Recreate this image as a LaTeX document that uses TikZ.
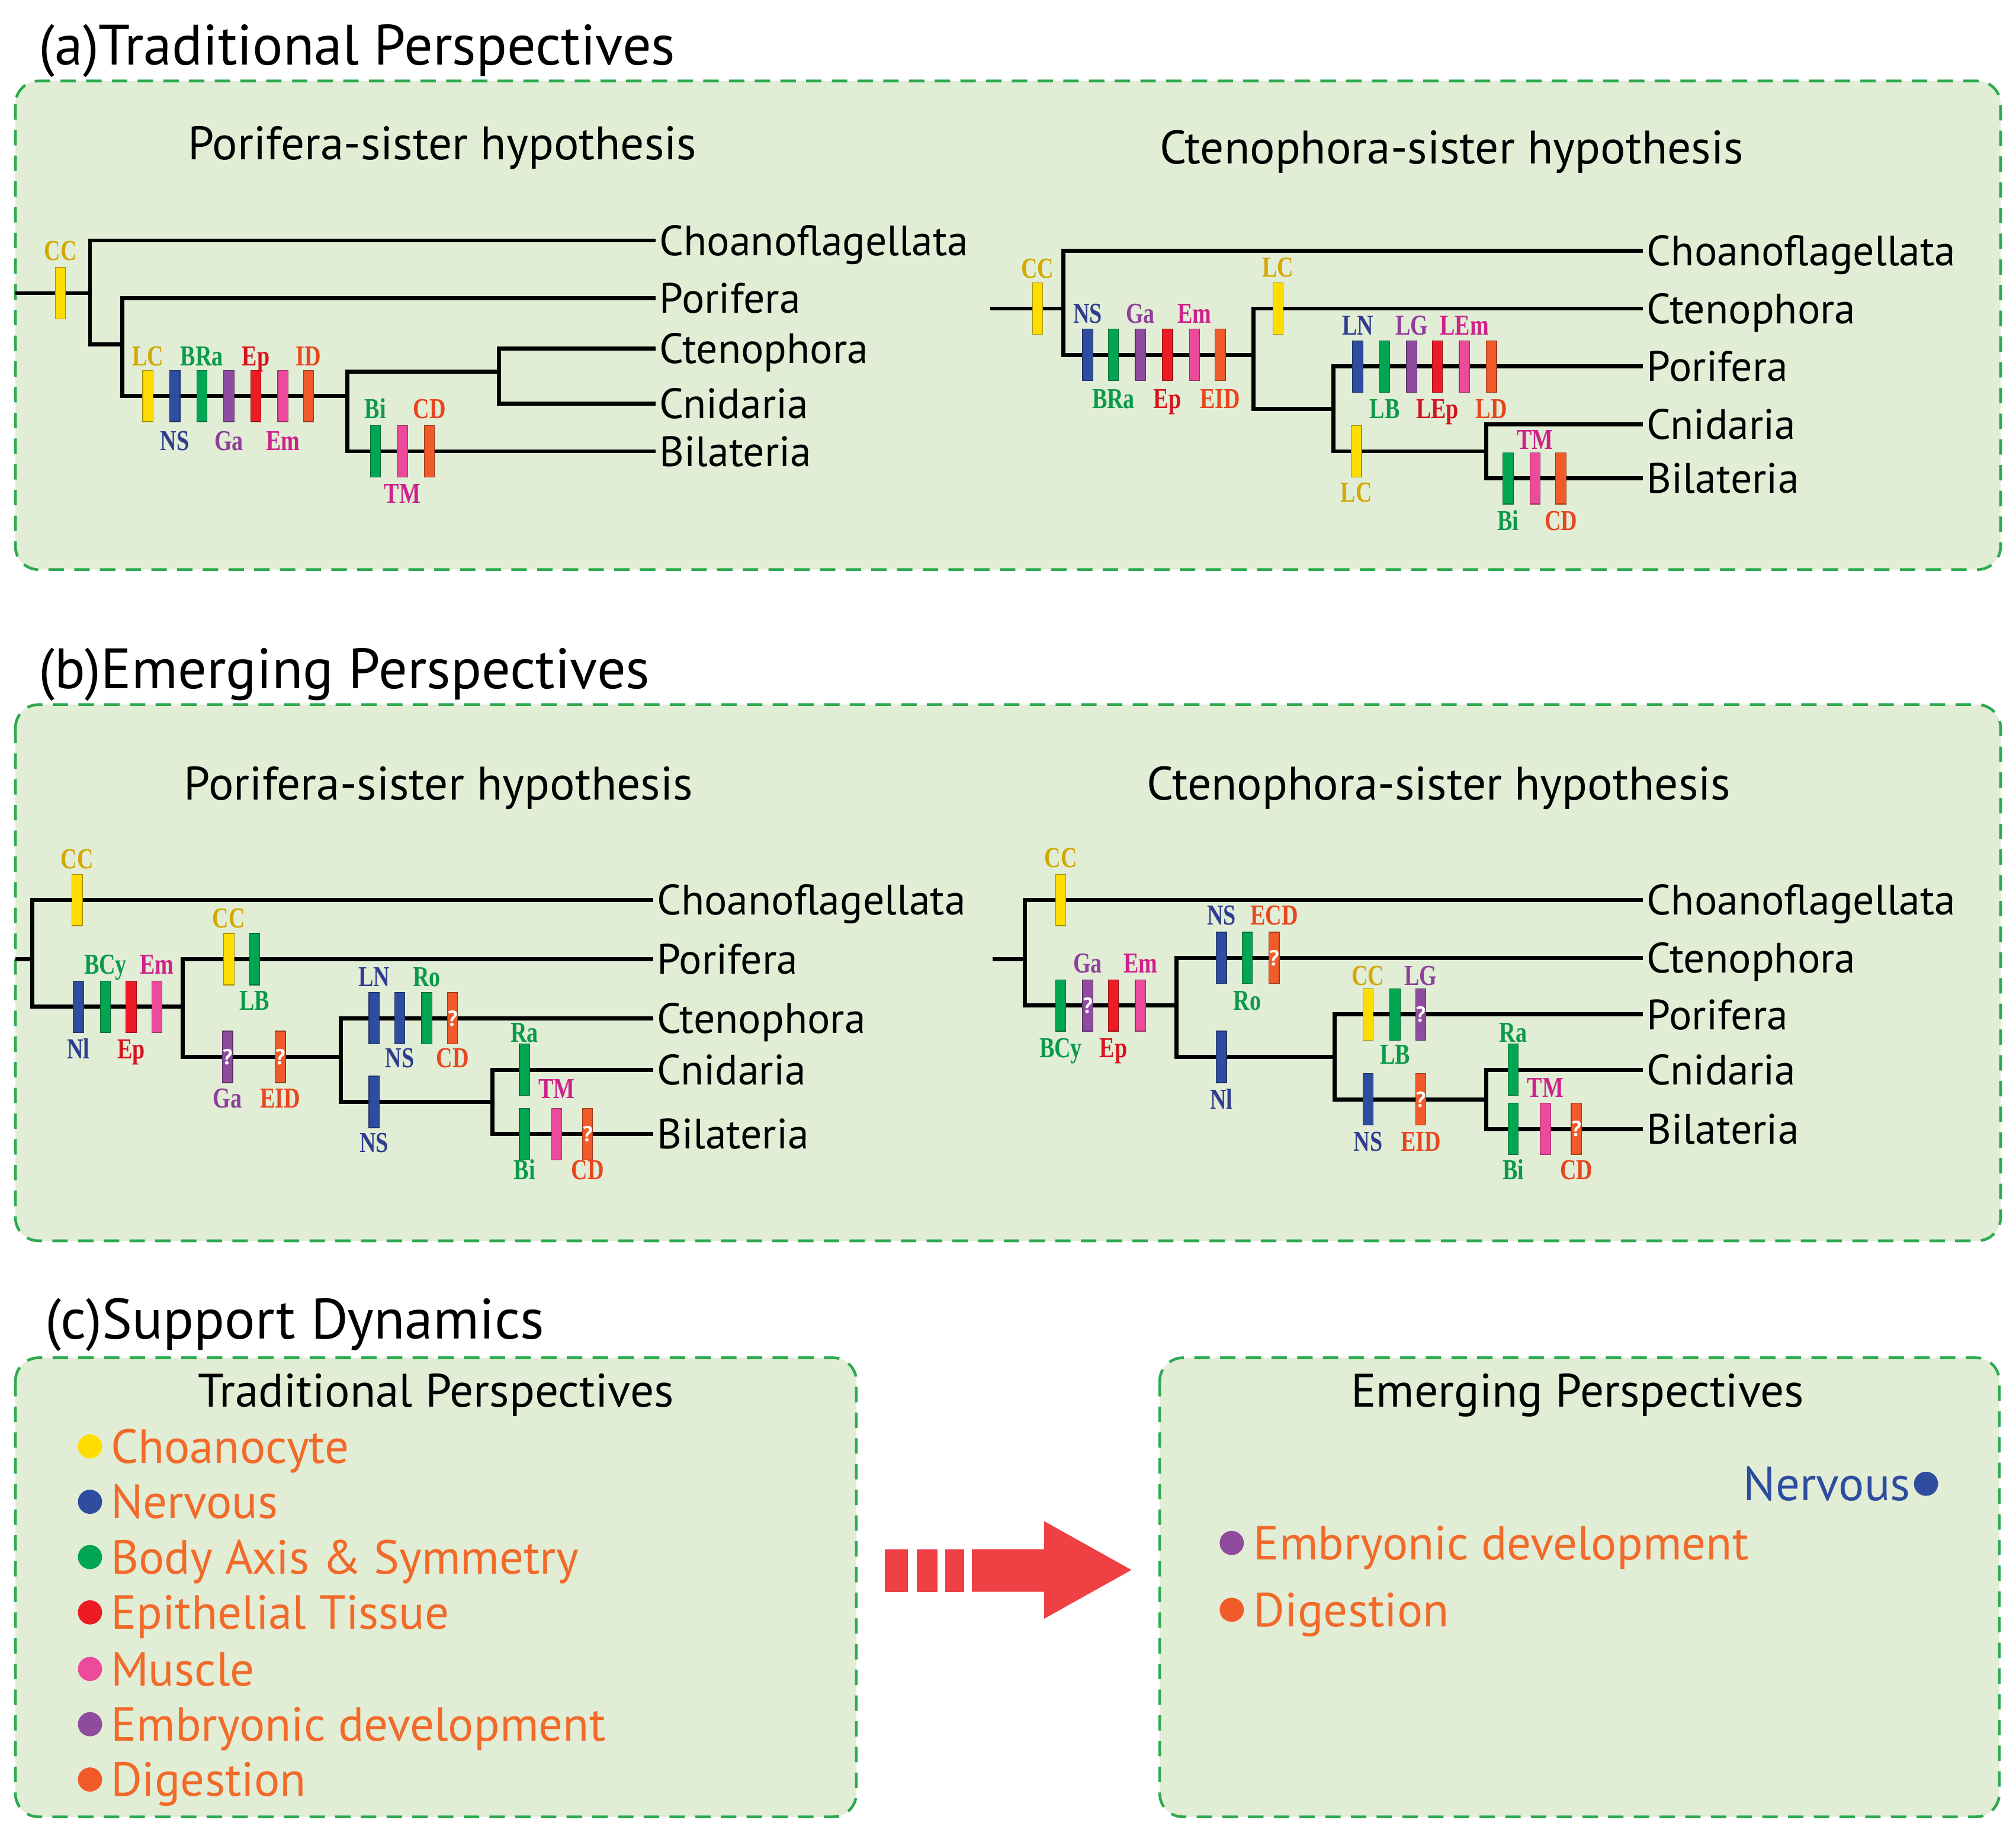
\documentclass[tikz,border=0pt]{standalone}
\usepackage{fontspec}
\setmainfont{PT Sans}
\newfontfamily\labfont{Liberation Serif}[FakeStretch=0.78]
\definecolor{yel}{HTML}{FFDD00}
\definecolor{blu}{HTML}{2E4D9F}
\definecolor{grn}{HTML}{00A651}
\definecolor{pur}{HTML}{8F4B9E}
\definecolor{red}{HTML}{ED1C24}
\definecolor{pnk}{HTML}{EC4A9B}
\definecolor{org}{HTML}{F15A29}
\definecolor{lyel}{HTML}{D4A800}
\definecolor{lblu}{HTML}{2E3D8F}
\definecolor{lgrn}{HTML}{0A9A4A}
\definecolor{lpur}{HTML}{8E3F9A}
\definecolor{lred}{HTML}{D7141E}
\definecolor{lpnk}{HTML}{D0218A}
\definecolor{lorg}{HTML}{E8461F}
\definecolor{legt}{HTML}{F26A2A}
\definecolor{boxbg}{HTML}{E1EDD5}
\definecolor{boxln}{HTML}{2DAA4F}
\definecolor{arr}{HTML}{EF4044}
\newcommand\tbar[3]{\filldraw[fill=#3,draw=#3!65!black,line width=0.8pt] ({#1-4},{#2-20}) rectangle ({#1+4},{#2+20});}
\newcommand\qbar[3]{\tbar{#1}{#2}{#3}\node[text=white,font=\bfseries\fontsize{24}{24}\selectfont,inner sep=0] at (#1,#2) {?};}
\newcommand\tlab[4]{\node[lab,text=#3] at (#1,#2) {#4};}
\begin{document}
\begin{tikzpicture}[x=0.05cm,y=-0.05cm,
  br/.style={line width=4.5pt,line join=miter,black},
  leaf/.style={anchor=west,inner xsep=4pt,inner ysep=0pt,text height=33pt,text depth=0pt,font=\fontsize{47}{47}\selectfont},
  lab/.style={inner sep=0pt,text height=21pt,text depth=0pt,font=\labfont\bfseries\fontsize{32}{32}\selectfont},
  ttl/.style={font=\fontsize{52}{52}\selectfont,inner sep=0pt},
  sec/.style={font=\fontsize{63}{63}\selectfont,anchor=west,inner sep=0pt,text height=44pt,text depth=0pt},
  box/.style={draw=boxln,fill=boxbg,line width=3pt,dash pattern=on 0.6cm off 0.4cm,rounded corners=0.9cm},
  legtxt/.style={anchor=west,inner sep=0pt,text=legt,font=\fontsize{53}{53}\selectfont,text height=37pt,text depth=0pt}]
\useasboundingbox (0,0) rectangle (1568,1430);
\fill[white] (0,0) rectangle (1568,1430);
% ---------- (a)
\node[sec] (ta) at (30,35) {(a)Traditional Perspectives};
\draw[box] (12,63) rectangle (1556,443);
\node[ttl] (ta1) at (344,115) {Porifera-sister hypothesis};
\node[ttl] (ta2) at (1129,118) {Ctenophora-sister hypothesis};
\node[leaf] (aC) at (510,187) {Choanoflagellata};
\node[leaf] (aP) at (510,232) {Porifera};
\node[leaf] (aCt) at (510,271) {Ctenophora};
\node[leaf] (aCn) at (510,314) {Cnidaria};
\node[leaf] (aB) at (510,351) {Bilateria};
\draw[br] (12,228) -- (70,228);
\draw[br] (aC.west) -| (70,268) -- (95,268);
\draw[br] (aP.west) -| (95,308) -- (270,308);
\draw[br] (388,289) -- (270,289) -- (270,351) -- (aB.west);
\draw[br] (aCt.west) -| (388,314) -- (aCn.west);
\tbar{47}{228}{yel}\tlab{47}{195}{lyel}{CC}
\tbar{115}{308}{yel}\tbar{136}{308}{blu}\tbar{157}{308}{grn}\tbar{178}{308}{pur}\tbar{199}{308}{red}\tbar{220}{308}{pnk}\tbar{240}{308}{org}
\tlab{115}{277}{lyel}{LC}\tlab{157}{277}{lgrn}{BRa}\tlab{199}{277}{lred}{Ep}\tlab{240}{277}{lorg}{ID}
\tlab{136}{343}{lblu}{NS}\tlab{178}{343}{lpur}{Ga}\tlab{220}{343}{lpnk}{Em}
\tbar{292}{351}{grn}\tbar{313}{351}{pnk}\tbar{334}{351}{org}
\tlab{292}{318}{lgrn}{Bi}\tlab{334}{318}{lorg}{CD}\tlab{313}{384}{lpnk}{TM}
% right (a)
\node[leaf] (aC2) at (1278,195) {Choanoflagellata};
\node[leaf] (aCt2) at (1278,240) {Ctenophora};
\node[leaf] (aP2) at (1278,285) {Porifera};
\node[leaf] (aCn2) at (1278,330) {Cnidaria};
\node[leaf] (aB2) at (1278,372) {Bilateria};
\draw[br] (770,240) -- (827,240);
\draw[br] (aC2.west) -| (827,276) -- (975,276);
\draw[br] (aCt2.west) -| (975,318) -- (1037,318);
\draw[br] (aP2.west) -| (1037,351) -- (1156,351);
\draw[br] (aCn2.west) -| (1156,372) -- (aB2.west);
\tbar{807}{240}{yel}\tlab{807}{209}{lyel}{CC}
\tbar{846}{276}{blu}\tbar{866}{276}{grn}\tbar{887}{276}{pur}\tbar{908}{276}{red}\tbar{929}{276}{pnk}\tbar{949}{276}{org}
\tlab{846}{244}{lblu}{NS}\tlab{887}{244}{lpur}{Ga}\tlab{929}{244}{lpnk}{Em}
\tlab{866}{310}{lgrn}{BRa}\tlab{908}{310}{lred}{Ep}\tlab{949}{310}{lorg}{EID}
\tbar{994}{240}{yel}\tlab{994}{208}{lyel}{LC}
\tbar{1056}{285}{blu}\tbar{1077}{285}{grn}\tbar{1098}{285}{pur}\tbar{1118}{285}{red}\tbar{1139}{285}{pnk}\tbar{1160}{285}{org}
\tlab{1056}{253}{lblu}{LN}\tlab{1098}{253}{lpur}{LG}\tlab{1139}{253}{lpnk}{LEm}
\tlab{1077}{318}{lgrn}{LB}\tlab{1118}{318}{lred}{LEp}\tlab{1160}{318}{lorg}{LD}
\tbar{1055}{351}{yel}\tlab{1055}{383}{lyel}{LC}
\tbar{1173}{372}{grn}\tbar{1194}{372}{pnk}\tbar{1214}{372}{org}
\tlab{1194}{342}{lpnk}{TM}\tlab{1173}{405}{lgrn}{Bi}\tlab{1214}{405}{lorg}{CD}
% ---------- (b)
\node[sec] (tb) at (30,520) {(b)Emerging Perspectives};
\draw[box] (12,548) rectangle (1556,965);
\node[ttl] (tb1) at (341,613) {Porifera-sister hypothesis};
\node[ttl] (tb2) at (1119,613) {Ctenophora-sister hypothesis};
\node[leaf] (bC) at (508,700) {Choanoflagellata};
\node[leaf] (bP) at (508,746) {Porifera};
\node[leaf] (bCt) at (508,792) {Ctenophora};
\node[leaf] (bCn) at (508,832) {Cnidaria};
\node[leaf] (bB) at (508,882) {Bilateria};
\draw[br] (12,746) -- (25,746);
\draw[br] (bC.west) -| (25,783) -- (142,783);
\draw[br] (bP.west) -| (142,822) -- (265,822);
\draw[br] (bCt.west) -| (265,857) -- (383,857);
\draw[br] (bCn.west) -| (383,882) -- (bB.west);
\tbar{60}{700}{yel}\tlab{60}{668}{lyel}{CC}
\tbar{61}{783}{blu}\tbar{82}{783}{grn}\tbar{102}{783}{red}\tbar{122}{783}{pnk}
\tlab{82}{750}{lgrn}{BCy}\tlab{122}{750}{lpnk}{Em}\tlab{61}{816}{lblu}{Nl}\tlab{102}{816}{lred}{Ep}
\tbar{178}{746}{yel}\tbar{198}{746}{grn}\tlab{178}{714}{lyel}{CC}\tlab{198}{778}{lgrn}{LB}
\qbar{177}{822}{pur}\qbar{218}{822}{org}\tlab{177}{854}{lpur}{Ga}\tlab{218}{854}{lorg}{EID}
\tbar{291}{792}{blu}\tbar{311}{792}{blu}\tbar{332}{792}{grn}\qbar{352}{792}{org}
\tlab{291}{760}{lblu}{LN}\tlab{332}{760}{lgrn}{Ro}\tlab{311}{823}{lblu}{NS}\tlab{352}{823}{lorg}{CD}
\tbar{291}{857}{blu}\tlab{291}{889}{lblu}{NS}
\tbar{408}{832}{grn}\tlab{408}{803}{lgrn}{Ra}
\tbar{408}{882}{grn}\tbar{433}{882}{pnk}\qbar{457}{882}{org}
\tlab{433}{847}{lpnk}{TM}\tlab{408}{910}{lgrn}{Bi}\tlab{457}{910}{lorg}{CD}
% right (b)
\node[leaf] (bC2) at (1278,700) {Choanoflagellata};
\node[leaf] (bCt2) at (1278,745) {Ctenophora};
\node[leaf] (bP2) at (1278,789) {Porifera};
\node[leaf] (bCn2) at (1278,832) {Cnidaria};
\node[leaf] (bB2) at (1278,878) {Bilateria};
\draw[br] (772,746) -- (797,746);
\draw[br] (bC2.west) -| (797,782) -- (915,782);
\draw[br] (bCt2.west) -| (915,822) -- (1038,822);
\draw[br] (bP2.west) -| (1038,855) -- (1156,855);
\draw[br] (bCn2.west) -| (1156,878) -- (bB2.west);
\tbar{825}{700}{yel}\tlab{825}{667}{lyel}{CC}
\tbar{825}{782}{grn}\qbar{846}{782}{pur}\tbar{866}{782}{red}\tbar{887}{782}{pnk}
\tlab{846}{749}{lpur}{Ga}\tlab{887}{749}{lpnk}{Em}\tlab{825}{815}{lgrn}{BCy}\tlab{866}{815}{lred}{Ep}
\tbar{950}{745}{blu}\tbar{970}{745}{grn}\qbar{991}{745}{org}
\tlab{950}{712}{lblu}{NS}\tlab{991}{712}{lorg}{ECD}\tlab{970}{778}{lgrn}{Ro}
\tbar{950}{822}{blu}\tlab{950}{855}{lblu}{Nl}
\tbar{1064}{789}{yel}\tbar{1085}{789}{grn}\qbar{1105}{789}{pur}
\tlab{1064}{759}{lyel}{CC}\tlab{1105}{759}{lpur}{LG}\tlab{1085}{820}{lgrn}{LB}
\tbar{1064}{855}{blu}\qbar{1105}{855}{org}\tlab{1064}{888}{lblu}{NS}\tlab{1105}{888}{lorg}{EID}
\tbar{1177}{832}{grn}\tlab{1177}{803}{lgrn}{Ra}
\tbar{1177}{878}{grn}\tbar{1202}{878}{pnk}\qbar{1226}{878}{org}
\tlab{1202}{846}{lpnk}{TM}\tlab{1177}{910}{lgrn}{Bi}\tlab{1226}{910}{lorg}{CD}
% ---------- (c)
\node[sec] (tc) at (35,1026) {(c)Support Dynamics};
\draw[box] (12,1056) rectangle (666,1413);
\draw[box] (902,1056) rectangle (1555,1413);
\node[ttl] (tc1) at (339,1085) {Traditional Perspectives};
\node[ttl] (tc2) at (1227,1085) {Emerging Perspectives};
\foreach \yy/\cc/\tt in {1125/yel/Choanocyte,1168/blu/Nervous,1211/grn/Body Axis \& Symmetry,1254/red/Epithelial Tissue,1298/pnk/Muscle,1341/pur/Embryonic development,1384/org/Digestion}{
  \fill[\cc] (70,\yy) circle[radius=0.47cm];
  \node[legtxt] at (86,\yy) {\tt};
}
\fill[blu] (1498,1154) circle[radius=0.47cm];
\node[legtxt,anchor=east,text=blu] (nv) at (1486,1154) {Nervous};
\fill[pur] (958,1200) circle[radius=0.47cm];
\node[legtxt] (emb) at (975,1200) {Embryonic development};
\fill[org] (958,1252) circle[radius=0.47cm];
\node[legtxt] (dig) at (975,1252) {Digestion};
\fill[arr] (688,1205) rectangle (706,1238);
\fill[arr] (713,1205) rectangle (729,1238);
\fill[arr] (735,1205) rectangle (750,1238);
\fill[arr] (756,1205) -- (812,1205) -- (812,1183) -- (880,1221) -- (812,1259) -- (812,1238) -- (756,1238) -- cycle;
\end{tikzpicture}
\end{document}
